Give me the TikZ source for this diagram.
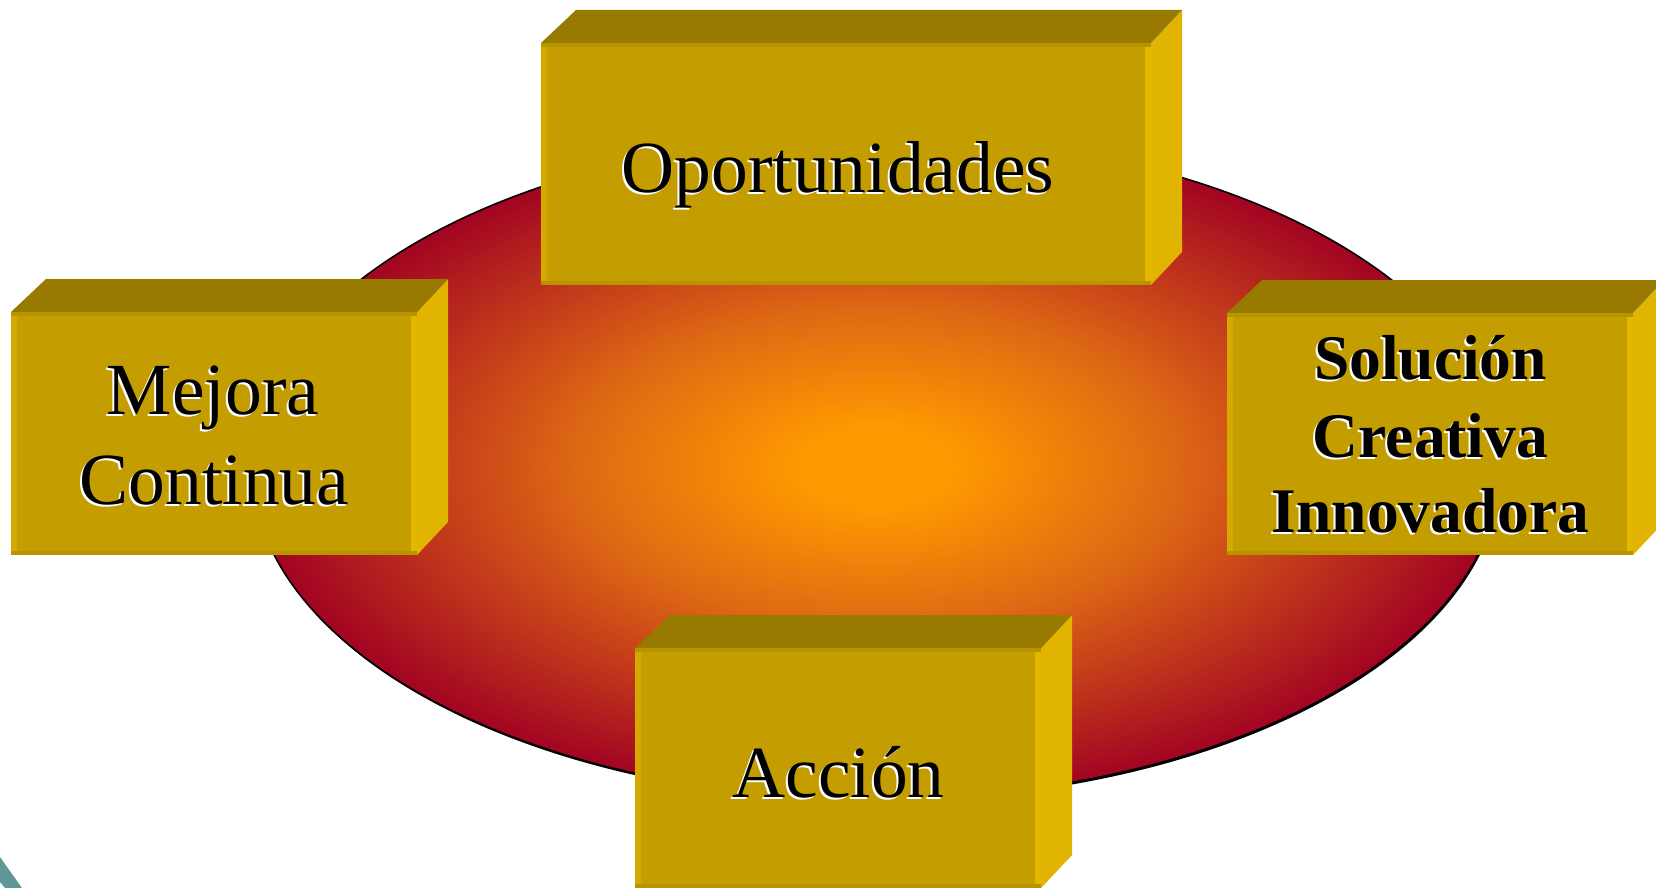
\documentclass[tikz,border=0pt]{standalone}
\usepackage{fontspec}
\setmainfont{Liberation Serif}
\usetikzlibrary{calc}
\definecolor{ocen}{RGB}{255,153,0}
\definecolor{omid}{RGB}{222,104,20}
\definecolor{oedge}{RGB}{162,4,34}
\definecolor{goldfront}{RGB}{196,158,0}
\definecolor{goldtop}{RGB}{153,122,0}
\definecolor{goldside}{RGB}{224,180,0}
\definecolor{goldstripl}{RGB}{212,170,0}
\definecolor{goldstripr}{RGB}{228,184,0}
\definecolor{goldstript}{RGB}{184,148,0}
\definecolor{tealmark}{RGB}{96,152,152}
\pgfdeclareradialshading{ovalshade}{\pgfpoint{0bp}{0bp}}{color(0bp)=(ocen); color(3bp)=(ocen); color(12bp)=(omid); color(25bp)=(oedge); color(50bp)=(oedge)}
\newcommand\shd[1]{\rlap{\kern-2pt\raisebox{-2pt}{\textcolor{white}{#1}}}#1}
\newcommand\goldbox[5]{%
  \node[frontface, minimum width=#4, minimum height=#5] (#1) at (#2,#3) {};
  \fill[goldside] (#1.north east) -- ++(31,-33) -- ($(#1.south east)+(31,-33)$) -- (#1.south east) -- cycle;
  \fill[goldtop] (#1.north west) -- ++(35,-33) -- ($(#1.north east)+(31,-33)$) -- (#1.north east) -- cycle;
  \fill[goldstripl] (#1.north west) rectangle ($(#1.south west)+(6,0)$);
  \fill[goldstripr] ($(#1.north east)+(-6,0)$) rectangle (#1.south east);
  \fill[goldstript] (#1.north west) rectangle ($(#1.north east)+(0,4)$);
  \fill[goldstript] ($(#1.south west)+(0,-4)$) rectangle (#1.south east);
}
\begin{document}
\begin{tikzpicture}[x=1pt,y=-1pt,
  frontface/.style={rectangle, fill=goldfront, draw=none, inner sep=0pt, outer sep=0pt},
  lbl/.style={inner sep=0pt, anchor=base, text=black, font=\fontsize{73.5}{88}\selectfont},
  blbl/.style={inner sep=0pt, anchor=base, text=black, font=\fontsize{63.5}{76}\selectfont\bfseries}]
\useasboundingbox (0,0) rectangle (1656,888);
\fill[white] (0,0) rectangle (1656,888);
\begin{scope}
\clip (0,0) rectangle (1656,888);
% oval
\fill[black] (877,469) ellipse [x radius=624, y radius=332];
\shade[shading=ovalshade, draw=black, line width=1.6pt] (876,467) ellipse [x radius=624, y radius=332];
% teal mark
\fill[tealmark] (0,857) -- (22,888) -- (5,888) -- (0,882) -- cycle;
% boxes
\goldbox{opp}{846}{164}{610}{242}
\goldbox{mej}{214}{433.5}{406}{243}
\goldbox{sol}{1430}{434}{406}{242}
\goldbox{acc}{838}{768}{406}{240}
% labels
\node[lbl] (t1) at (838,192) {\shd{Oportunidades}};
\node[lbl] (t2) at (213,414) {\shd{Mejora}};
\node[lbl] (t3) at (214.5,504) {\shd{Continua}};
\node[blbl] (t4) at (1430.5,379) {\shd{Solución}};
\node[blbl] (t5) at (1430.5,457) {\shd{Creativa}};
\node[blbl] (t6) at (1430.5,532) {\shd{Innovadora}};
\node[lbl] (t7) at (838.5,797) {\shd{Acción}};
\end{scope}
\end{tikzpicture}
\end{document}
